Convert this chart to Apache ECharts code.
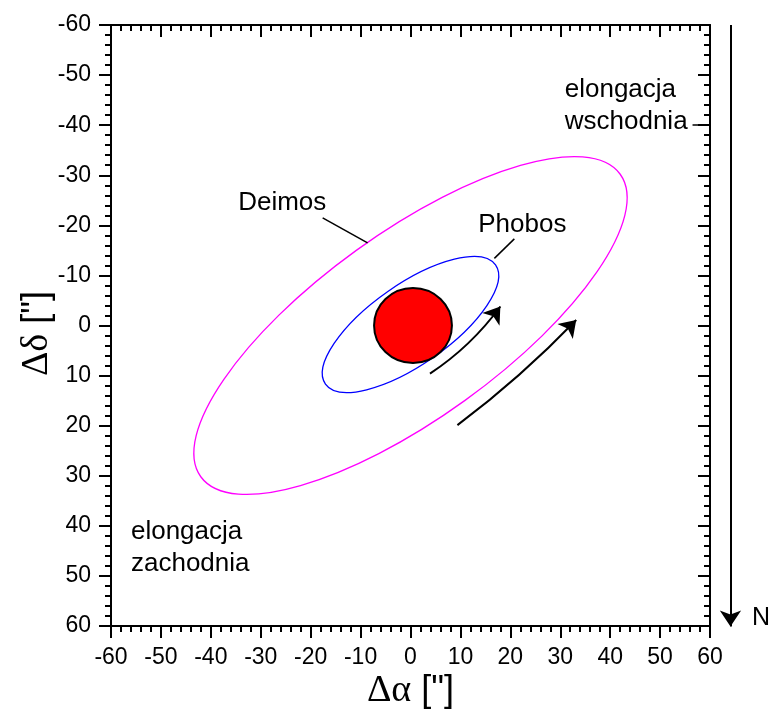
<!DOCTYPE html>
<html>
<head>
<meta charset="utf-8">
<title>Orbity Fobosa i Deimosa</title>
<script src="https://cdn.jsdelivr.net/npm/echarts@6/dist/echarts.min.js"></script>
<style>
    html, body { margin: 0; padding: 0; background: #fff; }
    #chart { width: 771px; height: 717px; }
</style>
</head>
<body>
<div id="chart"></div>
<script>
// zakres osi (sekundy łuku)
const axisMin = -60;
const axisMax = 60;
const axisStep = 10;

// orbity: [środek x, środek y, półoś wielka, półoś mała, nachylenie w stopniach]
const deimosOrbit = [0, 0, 51.8, 18.5, 35.8];
const phobosOrbit = [0, -0.2, 20.8, 8.0, 35];

// tarcza Marsa: [środek x, środek y, promień x, promień y]
const marsDisk = [0.5, 0, 7.8, 7.5];

// strzałki kierunku ruchu: [początek, koniec]
const phobosArrow = [[3.9, 9.6], [18.0, -3.8]];
const deimosArrow = [[9.4, 19.9], [33.2, -1.1]];

// linie odnośników
const deimosLeader = [[-17.6, -21.5], [-8.6, -16.5]];
const phobosLeader = [[20.8, -17.3], [16.8, -13.4]];
const eastLeader = [[56.5, -40], [60, -40]];

// kierunek północy
const northArrow = [[64.1, -60], [64.1, 60.1]];

// podpisy
const labelNames = ['Deimos', 'Phobos', 'elongacja\nwschodnia', 'elongacja\nzachodnia', 'N'];
const labelPoints = [[-25.7, -24.5], [22.4, -20.2], [30.9, -43.8], [-56.0, 44.4], [70.2, 58.5]];

(function () {
    const sans = '"Liberation Sans", Arial, sans-serif';
    const serif = '"Liberation Serif", "Times New Roman", serif';

    function ellipseItem(params, api) {
        const c = api.coord([api.value(0), api.value(1)]);
        const s = api.size([1, 1]);
        return {
            type: 'ellipse',
            x: c[0],
            y: c[1],
            rotation: api.value(4) * Math.PI / 180,
            shape: { cx: 0, cy: 0, rx: api.value(2) * s[0], ry: api.value(3) * s[1] },
            style: { fill: 'none', stroke: api.visual('color'), lineWidth: 1.3 }
        };
    }

    function diskItem(params, api) {
        const c = api.coord([api.value(0), api.value(1)]);
        const s = api.size([1, 1]);
        return {
            type: 'ellipse',
            shape: { cx: c[0], cy: c[1], rx: api.value(2) * s[0], ry: api.value(3) * s[1] },
            style: { fill: '#ff0000', stroke: '#000', lineWidth: 2 }
        };
    }

    const titleRich = {
        g: { fontFamily: serif, fontSize: 38, color: '#000' },
        s: { width: 10 },
        b: { fontFamily: sans, fontSize: 36, color: '#000' }
    };

    function axisX(pos) {
        const top = pos === 'top';
        return {
            type: 'value', position: pos, min: axisMin, max: axisMax, interval: axisStep,
            axisLine: { show: true, onZero: false, lineStyle: { color: '#000', width: 2 } },
            axisTick: { show: true, inside: top, length: 12, lineStyle: { color: '#000', width: 2 } },
            minorTick: { show: true, splitNumber: 5, length: 6, lineStyle: { color: '#000', width: 2 } },
            axisLabel: { show: !top, color: '#000', fontSize: 23, fontFamily: sans, margin: 20 },
            splitLine: { show: false },
            name: top ? '' : '{g|Δα}{s|}{b|["]}',
            nameLocation: 'middle',
            nameGap: 46,
            nameMoveOverlap: false,
            nameTextStyle: { rich: titleRich }
        };
    }

    function axisY(pos) {
        const right = pos === 'right';
        return {
            type: 'value', position: pos, inverse: true, min: axisMin, max: axisMax, interval: axisStep,
            axisLine: { show: true, onZero: false, lineStyle: { color: '#000', width: 2 } },
            axisTick: { show: true, inside: right, length: 12, lineStyle: { color: '#000', width: 2 } },
            minorTick: { show: true, splitNumber: 5, length: 6, lineStyle: { color: '#000', width: 2 } },
            axisLabel: { show: !right, color: '#000', fontSize: 23, fontFamily: sans, margin: 20 },
            splitLine: { show: false },
            name: right ? '' : '{g|Δδ}{s|}{b|["]}',
            nameLocation: 'middle',
            nameRotate: 90,
            nameGap: 55,
            nameMoveOverlap: false,
            nameTextStyle: { rich: titleRich, padding: [0, 16, 0, 0] }
        };
    }

    function lineSeries(coords, arrow) {
        return {
            type: 'lines',
            coordinateSystem: 'cartesian2d',
            clip: false,
            symbol: arrow ? ['none', 'arrow'] : ['none', 'none'],
            symbolSize: [10, 16],
            lineStyle: { color: '#000', width: arrow ? 2 : 1.5, opacity: 1, curveness: 0 },
            data: [{ coords: coords }],
            silent: true,
            z: 4
        };
    }

    function init() {
        const chart = echarts.init(document.getElementById('chart'), null, { renderer: 'canvas' });

        const phobosArrowSeries = lineSeries(phobosArrow, true);
        phobosArrowSeries.lineStyle.curveness = -0.09;
        const deimosArrowSeries = lineSeries(deimosArrow, true);
        deimosArrowSeries.lineStyle.curveness = -0.04;
        const northSeries = lineSeries(northArrow, true);

        chart.setOption({
            backgroundColor: '#fff',
            animation: false,
            grid: { left: 111, right: 61, top: 25, bottom: 91 },
            xAxis: [axisX('bottom'), axisX('top')],
            yAxis: [axisY('left'), axisY('right')],
            series: [
                {
                    type: 'custom', name: 'Deimos',
                    renderItem: ellipseItem,
                    itemStyle: { color: '#ff00ff' },
                    encode: { x: 0, y: 1 },
                    data: [deimosOrbit], z: 2
                },
                {
                    type: 'custom', name: 'Phobos',
                    renderItem: ellipseItem,
                    itemStyle: { color: '#0000ff' },
                    encode: { x: 0, y: 1 },
                    data: [phobosOrbit], z: 2
                },
                {
                    type: 'custom', name: 'Mars',
                    renderItem: diskItem,
                    encode: { x: 0, y: 1 },
                    data: [marsDisk], z: 3
                },
                phobosArrowSeries,
                deimosArrowSeries,
                northSeries,
                lineSeries(deimosLeader, false),
                lineSeries(phobosLeader, false),
                lineSeries(eastLeader, false),
                {
                    type: 'scatter',
                    symbolSize: 0,
                    clip: false,
                    silent: true,
                    itemStyle: { opacity: 1 },
                    data: labelNames.map((n, i) => ({
                        name: n,
                        value: labelPoints[i],
                        label: {
                            position: (i === 2 || i === 3) ? 'right' : 'inside',
                            distance: 0,
                            align: (i === 2 || i === 3) ? 'left' : 'center',
                            color: '#000',
                            fontSize: i === 4 ? 25 : 26
                        }
                    })),
                    label: {
                        show: true,
                        formatter: '{b}',
                        color: '#000',
                        fontFamily: sans,
                        fontSize: 26,
                        lineHeight: 32
                    },
                    z: 5
                }
            ]
        });

        window.addEventListener('resize', () => chart.resize());
    }

    document.addEventListener('DOMContentLoaded', init);
})();
</script>
</body>
</html>
